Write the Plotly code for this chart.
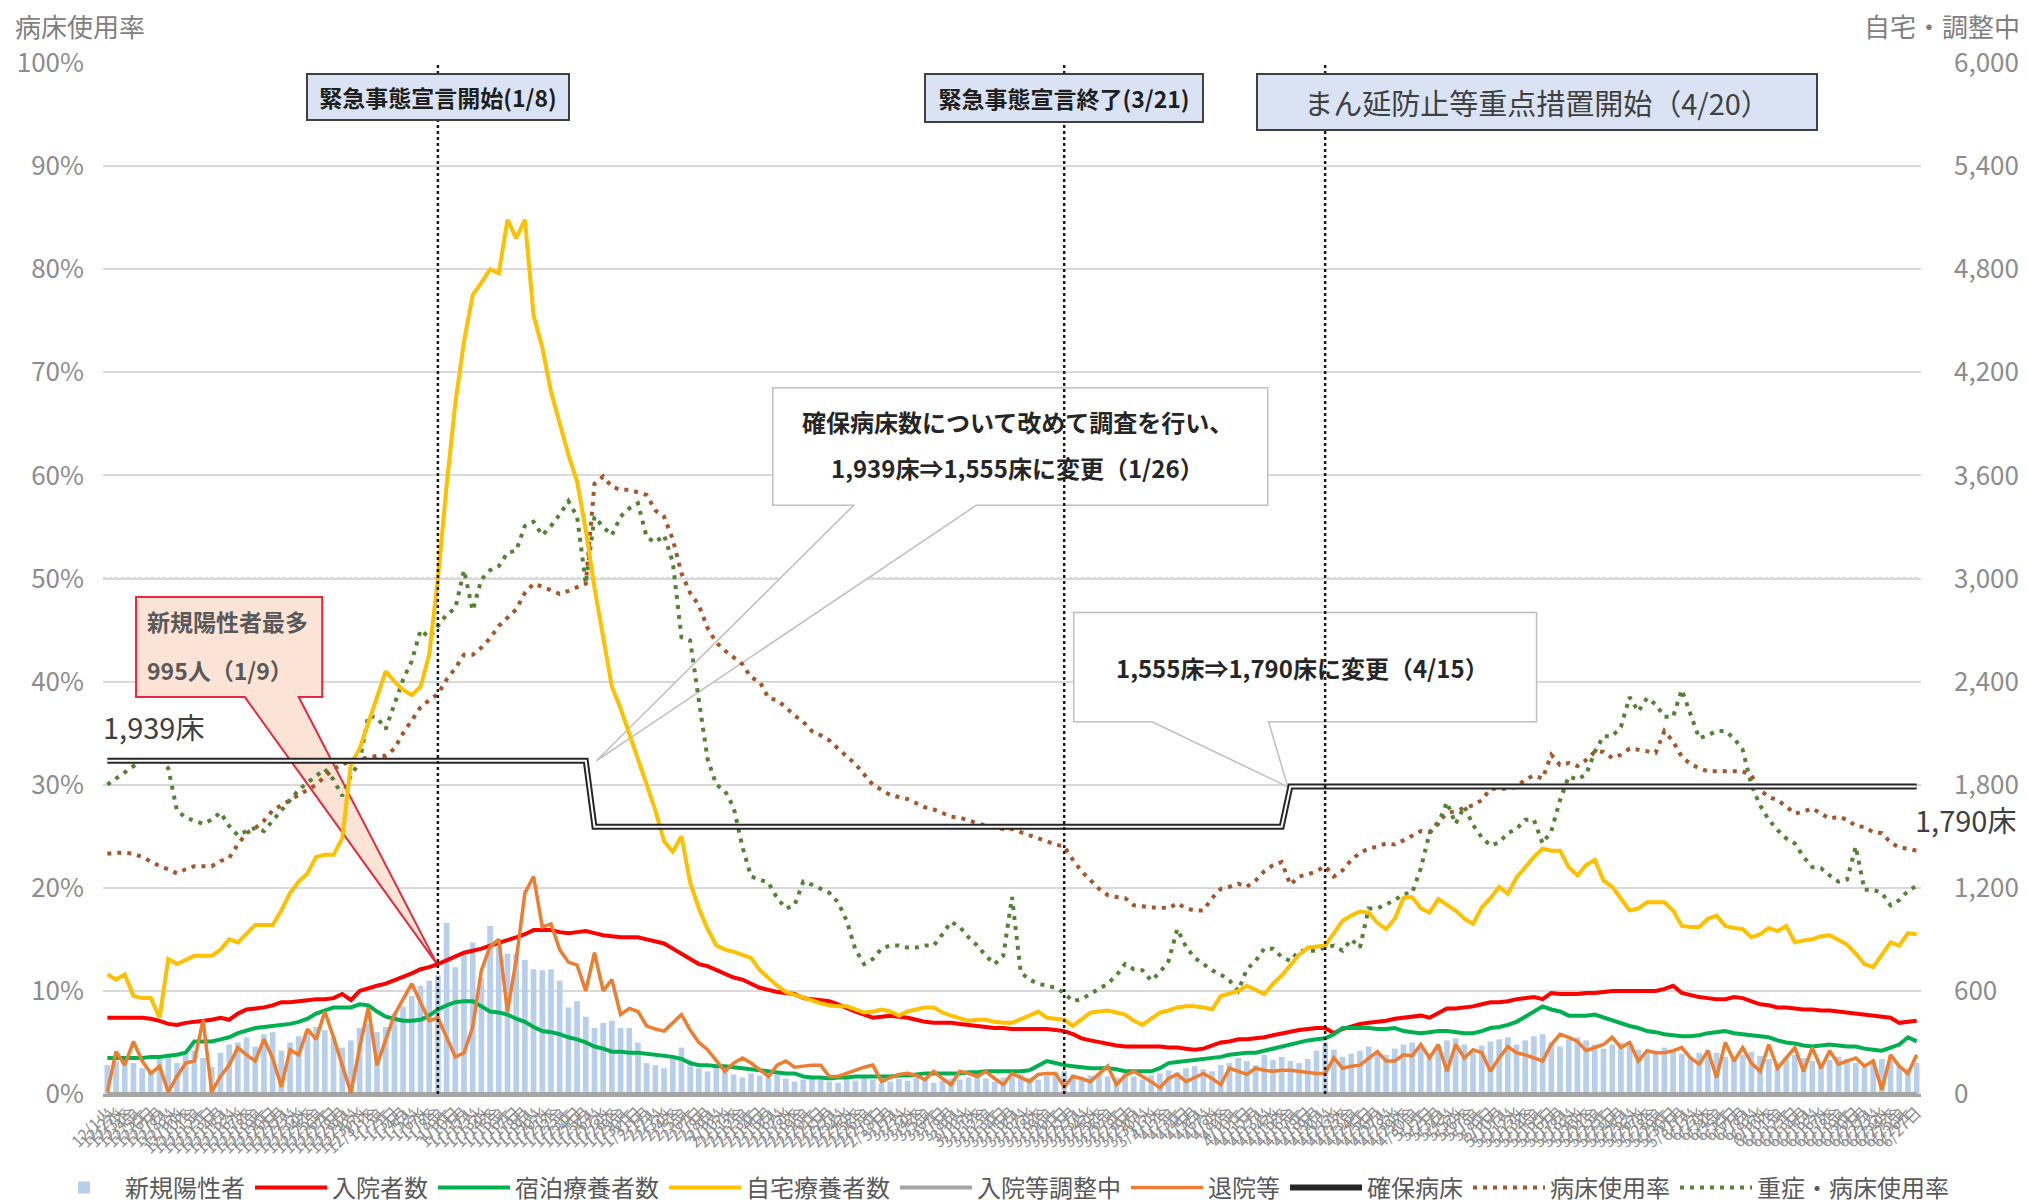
import pandas as pd
import plotly.graph_objects as go

WEEKDAYS = "月火水木金土日"
dates = pd.date_range("2020-12-01", "2021-06-27", freq="D")
date_labels = [f"{d.month}/{d.day}{WEEKDAYS[d.weekday()]}" for d in dates]

# counts (right axis)
new_cases = [
    168, 192, 210, 180, 150, 132, 204, 216, 180, 228,
    252, 210, 156, 240, 288, 300, 330, 276, 348, 360,
    252, 300, 336, 354, 390, 372, 330, 270, 312, 384,
    408, 360, 390, 468, 510, 570, 630, 660, 690, 995,
    738, 810, 882, 678, 978, 894, 816, 816, 780, 726,
    720, 726, 660, 504, 540, 450, 384, 414, 426, 384,
    384, 300, 180, 168, 150, 210, 270, 180, 150, 132,
    150, 138, 114, 96, 120, 108, 96, 114, 90, 72,
    84, 102, 90, 72, 66, 90, 78, 96, 84, 60,
    72, 90, 78, 96, 84, 66, 78, 90, 84, 96,
    108, 90, 72, 96, 102, 114, 96, 84, 108, 120,
    132, 114, 90, 108, 120, 102, 96, 114, 102, 84,
    108, 120, 138, 126, 150, 162, 144, 132, 168, 180,
    210, 192, 168, 228, 198, 216, 192, 180, 204, 252,
    300, 258, 216, 234, 252, 276, 240, 228, 264, 288,
    300, 270, 240, 276, 312, 324, 288, 252, 282, 306,
    318, 330, 288, 312, 336, 348, 300, 276, 318, 330,
    312, 288, 264, 288, 300, 282, 258, 234, 252, 270,
    252, 234, 216, 240, 258, 240, 216, 198, 228, 246,
    222, 204, 180, 210, 228, 210, 192, 174, 198, 216,
    204, 180, 156, 186, 204, 192, 168, 150, 180,
]

hospitalized = [
    444, 444, 444, 444, 444, 438, 426, 408, 402, 414,
    420, 426, 432, 444, 432, 468, 492, 498, 504, 516,
    534, 534, 540, 546, 552, 552, 558, 582, 546, 600,
    618, 630, 642, 660, 678, 702, 726, 738, 756, 780,
    798, 822, 834, 846, 864, 882, 894, 912, 930, 954,
    954, 954, 942, 936, 942, 948, 936, 924, 918, 912,
    912, 912, 900, 888, 876, 846, 816, 780, 756, 744,
    720, 696, 678, 666, 642, 618, 606, 594, 588, 582,
    558, 552, 546, 540, 522, 498, 480, 462, 444, 450,
    456, 450, 444, 432, 420, 414, 414, 414, 408, 402,
    396, 390, 384, 384, 378, 378, 378, 378, 378, 372,
    366, 348, 324, 312, 300, 294, 282, 276, 276, 276,
    276, 276, 270, 270, 264, 258, 264, 282, 300, 306,
    318, 318, 324, 330, 342, 354, 360, 372, 378, 384,
    384, 354, 378, 396, 408, 414, 420, 426, 438, 444,
    450, 456, 444, 468, 498, 498, 504, 510, 522, 534,
    534, 540, 552, 558, 564, 552, 588, 582, 582, 582,
    588, 588, 594, 600, 600, 600, 600, 600, 600, 612,
    630, 588, 576, 564, 558, 552, 552, 564, 558, 540,
    522, 516, 504, 504, 498, 492, 492, 486, 486, 480,
    474, 468, 462, 456, 450, 444, 414, 420, 426,
]

hotel = [
    210, 210, 210, 210, 210, 216, 216, 222, 228, 240,
    306, 306, 306, 318, 330, 354, 372, 384, 390, 396,
    402, 408, 420, 438, 468, 486, 504, 504, 504, 522,
    516, 480, 450, 438, 426, 426, 432, 456, 492, 516,
    534, 540, 540, 510, 480, 474, 462, 438, 420, 390,
    366, 360, 348, 330, 318, 300, 276, 264, 246, 246,
    240, 240, 234, 228, 222, 216, 204, 180, 168, 168,
    162, 162, 156, 150, 144, 138, 132, 126, 120, 120,
    102, 96, 96, 90, 96, 96, 102, 102, 102, 102,
    102, 108, 108, 114, 120, 120, 120, 120, 120, 126,
    126, 132, 132, 132, 132, 132, 138, 162, 192, 180,
    168, 162, 156, 150, 150, 150, 144, 132, 132, 132,
    132, 150, 180, 186, 192, 198, 204, 210, 216, 228,
    234, 240, 240, 252, 264, 276, 288, 300, 312, 318,
    324, 348, 384, 384, 384, 384, 378, 378, 384, 366,
    360, 354, 360, 366, 366, 360, 354, 354, 366, 384,
    390, 402, 420, 450, 480, 510, 492, 480, 456, 456,
    456, 462, 444, 426, 414, 396, 384, 366, 360, 348,
    342, 336, 336, 342, 354, 360, 366, 354, 348, 342,
    336, 330, 312, 300, 294, 282, 276, 282, 288, 282,
    276, 276, 264, 258, 252, 270, 288, 330, 306,
]

home = [
    696, 666, 696, 570, 558, 558, 444, 786, 756, 780,
    804, 804, 804, 840, 900, 882, 930, 984, 984, 984,
    1068, 1170, 1236, 1284, 1380, 1392, 1392, 1488, 1920, 2010,
    2160, 2310, 2460, 2400, 2352, 2322, 2370, 2556, 3000, 3540,
    4020, 4380, 4650, 4722, 4800, 4776, 5088, 4980, 5088, 4530,
    4344, 4086, 3900, 3720, 3564, 3282, 2946, 2658, 2370, 2244,
    2100, 1950, 1800, 1650, 1470, 1410, 1500, 1230, 1080, 960,
    864, 840, 828, 810, 792, 720, 672, 630, 594, 576,
    558, 540, 528, 516, 510, 510, 492, 474, 480, 492,
    480, 456, 480, 492, 504, 504, 474, 456, 438, 426,
    432, 432, 420, 414, 414, 432, 456, 480, 444, 438,
    432, 396, 432, 474, 480, 486, 474, 462, 426, 402,
    438, 474, 486, 504, 510, 510, 504, 492, 570, 588,
    600, 630, 606, 582, 642, 690, 750, 810, 852, 858,
    864, 936, 1008, 1038, 1062, 1056, 996, 960, 1020, 1140,
    1146, 1080, 1056, 1134, 1098, 1068, 1020, 990, 1086, 1140,
    1206, 1164, 1260, 1320, 1380, 1428, 1416, 1416, 1320, 1272,
    1332, 1362, 1242, 1206, 1140, 1068, 1080, 1116, 1116, 1116,
    1068, 978, 972, 972, 1020, 1038, 978, 966, 960, 912,
    930, 966, 948, 978, 882, 894, 900, 918, 924, 900,
    870, 816, 756, 738, 810, 882, 864, 936, 930,
]

adjusting = [0] * len(dates)

discharged = [
    12, 246, 168, 306, 192, 120, 162, 12, 102, 180,
    192, 432, 12, 102, 168, 270, 228, 192, 318, 210,
    42, 258, 228, 378, 318, 480, 330, 168, 6, 270,
    504, 168, 318, 462, 552, 642, 534, 426, 444, 330,
    216, 240, 390, 720, 858, 900, 480, 780, 1170, 1266,
    972, 990, 840, 768, 750, 600, 822, 600, 666, 462,
    498, 480, 396, 378, 366, 414, 462, 372, 300, 258,
    192, 132, 180, 210, 180, 144, 102, 168, 192, 156,
    162, 168, 168, 102, 102, 120, 138, 156, 168, 72,
    96, 114, 120, 108, 84, 132, 90, 54, 132, 120,
    102, 132, 90, 54, 120, 96, 72, 114, 120, 120,
    42, 102, 90, 72, 120, 162, 54, 108, 132, 102,
    72, 36, 90, 114, 72, 96, 120, 90, 54, 150,
    132, 114, 150, 138, 132, 138, 138, 132, 126, 120,
    120, 210, 150, 162, 168, 210, 246, 192, 192, 228,
    222, 288, 210, 288, 132, 288, 210, 258, 240, 132,
    210, 276, 240, 228, 210, 192, 288, 348, 330, 306,
    252, 270, 288, 330, 270, 300, 192, 252, 240, 240,
    252, 270, 210, 174, 252, 96, 300, 192, 270, 180,
    132, 288, 150, 210, 270, 132, 270, 150, 252, 174,
    192, 210, 162, 192, 24, 228, 162, 120, 228,
]

# secured beds: 1,939 -> 1,555 (1/26) -> 1,790 (4/15)
secured_beds = [1939] * 56 + [1555] * 80 + [1790] * 73

# percentages (left axis)
bed_rate = [
    23.3, 23.4, 23.4, 23.3, 23.0, 22.5, 22.1, 21.8, 21.4, 21.8,
    22.1, 22.1, 22.1, 22.6, 22.9, 24.2, 25.3, 25.8, 26.5, 27.5,
    28.0, 28.5, 29.0, 29.5, 30.0, 30.8, 31.5, 32.0, 32.3, 32.5,
    32.6, 32.8, 32.8, 33.5, 35.0, 36.2, 37.5, 38.2, 38.8, 40.2,
    41.3, 42.6, 42.6, 43.3, 44.2, 45.4, 46.2, 47.0, 48.6, 49.5,
    49.2, 48.8, 48.5, 48.8, 49.2, 49.5, 59.2, 59.9, 58.9, 58.6,
    58.6, 58.4, 58.1, 56.6, 56.0, 53.8, 50.5, 48.6, 47.4, 45.2,
    43.8, 43.0, 42.3, 41.7, 40.4, 40.0, 38.4, 38.2, 37.5, 36.7,
    36.1, 35.2, 34.8, 34.3, 33.5, 32.7, 32.0, 31.0, 30.0, 29.5,
    29.0, 28.8, 28.6, 28.2, 27.8, 27.6, 27.2, 26.9, 26.8, 26.5,
    26.2, 26.0, 25.9, 25.7, 25.7, 25.4, 25.0, 24.7, 24.5, 24.2,
    24.0, 22.7, 21.6, 20.7, 19.9, 19.3, 19.1, 19.0, 18.3, 18.2,
    18.1, 18.1, 18.0, 18.5, 18.0, 17.8, 17.8, 19.0, 19.9, 20.1,
    20.4, 20.1, 20.7, 21.6, 22.2, 22.5, 20.3, 21.1, 21.3, 21.6,
    22.1, 21.1, 21.7, 22.7, 23.4, 23.8, 24.0, 24.3, 24.2, 24.6,
    25.0, 25.5, 25.4, 26.4, 27.2, 27.5, 27.8, 28.0, 28.5, 29.6,
    29.6, 29.6, 29.8, 30.5, 30.9, 30.6, 32.9, 31.9, 32.1, 31.8,
    32.4, 33.2, 33.2, 32.6, 32.9, 33.5, 33.4, 33.2, 33.1, 35.2,
    34.2, 32.7, 32.0, 31.6, 31.3, 31.3, 31.3, 31.3, 31.3, 30.9,
    29.5, 28.8, 28.5, 27.9, 27.2, 27.4, 27.7, 27.2, 26.7, 26.9,
    26.6, 26.0, 25.9, 25.4, 25.3, 24.4, 23.9, 23.8, 23.6,
]

severe_rate = [
    30.0, 30.6, 31.1, 31.8, 32.4, 32.4, 32.4, 31.6, 27.5, 26.8,
    26.5, 26.2, 26.6, 27.3, 26.0, 25.1, 25.5, 25.8, 25.5, 26.5,
    27.5, 28.5, 29.5, 30.2, 30.8, 31.5, 30.5, 28.9, 30.9, 32.2,
    36.7, 36.5, 35.4, 37.8, 40.2, 42.0, 45.0, 44.3, 45.4, 46.5,
    47.1, 50.8, 46.9, 49.9, 50.8, 51.2, 52.5, 52.7, 55.1, 55.5,
    54.2, 55.1, 56.2, 57.5, 56.0, 49.5, 56.0, 55.0, 54.2, 56.0,
    56.8, 57.3, 54.0, 53.5, 54.2, 51.6, 44.3, 44.0, 38.2, 32.5,
    30.0, 29.4, 27.8, 24.0, 21.1, 20.8, 20.5, 19.0, 18.0, 18.3,
    20.6, 20.3, 19.9, 19.5, 18.6, 16.8, 14.0, 12.6, 13.1, 14.1,
    14.4, 14.4, 14.2, 14.2, 14.4, 14.4, 15.5, 16.7, 16.2, 15.2,
    14.4, 13.4, 12.6, 13.4, 19.1, 11.8, 11.1, 10.7, 10.5, 10.3,
    9.8, 9.0, 9.2, 9.7, 10.3, 10.7, 11.5, 12.6, 12.1, 12.0,
    11.0, 11.8, 12.9, 16.0, 14.3, 13.2, 12.6, 12.0, 11.6, 11.0,
    10.0, 12.1, 12.9, 14.1, 14.1, 13.3, 12.9, 13.9, 13.9, 13.9,
    14.2, 14.4, 13.9, 15.0, 14.2, 18.0, 18.0, 18.4, 18.8, 19.4,
    19.5, 21.9, 25.3, 26.2, 28.3, 26.2, 27.9, 26.1, 24.9, 24.1,
    24.4, 25.3, 25.7, 26.6, 26.6, 24.3, 25.5, 28.5, 30.8, 30.5,
    31.0, 33.2, 34.7, 34.7, 35.6, 38.5, 37.1, 38.4, 37.8, 36.6,
    36.6, 39.2, 36.8, 34.5, 34.8, 35.2, 35.2, 34.5, 33.4, 30.0,
    28.0, 26.6, 25.6, 24.8, 24.3, 23.0, 22.0, 21.9, 21.2, 20.6,
    20.8, 24.0, 19.8, 19.8, 19.5, 18.3, 18.8, 19.7, 20.2,
]

FONT = "Noto Sans CJK JP"
x = list(range(len(dates)))


def day(s):
    return dates.get_loc(pd.Timestamp(s))


fig = go.Figure()

fig.add_trace(go.Bar(x=x, y=new_cases, name="新規陽性者", yaxis="y2",
                     marker=dict(color="#b7cfec", line=dict(width=0))))
fig.add_trace(go.Scatter(x=x, y=hospitalized, name="入院者数", mode="lines", yaxis="y2",
                         line=dict(color="#ff0000", width=4)))
fig.add_trace(go.Scatter(x=x, y=hotel, name="宿泊療養者数", mode="lines", yaxis="y2",
                         line=dict(color="#00b050", width=4)))
fig.add_trace(go.Scatter(x=x, y=home, name="自宅療養者数", mode="lines", yaxis="y2",
                         line=dict(color="#ffc000", width=4)))
fig.add_trace(go.Scatter(x=x, y=adjusting, name="入院等調整中", mode="lines", yaxis="y2",
                         line=dict(color="#a5a5a5", width=4)))
fig.add_trace(go.Scatter(x=x, y=discharged, name="退院等", mode="lines", yaxis="y2",
                         line=dict(color="#ed7d31", width=3.5)))
fig.add_trace(go.Scatter(x=x, y=secured_beds, name="確保病床", mode="lines", yaxis="y2",
                         line=dict(color="#262626", width=6)))
fig.add_trace(go.Scatter(x=x, y=secured_beds, mode="lines", yaxis="y2", showlegend=False,
                         line=dict(color="white", width=2)))
fig.add_trace(go.Scatter(x=x, y=bed_rate, name="病床使用率", mode="lines",
                         line=dict(color="#a5552a", width=4, dash="4px,6px")))
fig.add_trace(go.Scatter(x=x, y=severe_rate, name="重症・病床使用率", mode="lines",
                         line=dict(color="#548235", width=4, dash="4px,6px")))

shapes = []
for d in ["2021-01-08", "2021-03-21", "2021-04-20"]:
    shapes.append(dict(type="line", xref="x", yref="y", x0=day(d), x1=day(d), y0=0, y1=100,
                       line=dict(color="#1a1a1a", width=2.5, dash="dot"), layer="above"))

shapes.append(dict(type="line", xref="paper", yref="y", x0=0, x1=1, y0=50, y1=50,
                   line=dict(color="#ee8a96", width=2, dash="dot"), layer="between"))

# callouts
shapes.append(dict(type="path", xref="x", yref="y", layer="between",
                   path="M 3.3,48.2 L 24.7,48.2 L 24.7,38.5 L 22.0,38.5 L 37.9,12.6 "
                        "L 15.8,38.5 L 3.3,38.5 Z",
                   fillcolor="#fbe3d6", line=dict(color="#e8283c", width=2)))
shapes.append(dict(type="path", xref="x", yref="y", layer="between",
                   path="M 76.5,68.5 L 133.4,68.5 L 133.4,57.1 L 99.9,57.1 L 56.2,32.3 "
                        "L 85.8,57.1 L 76.5,57.1 Z",
                   fillcolor="white", line=dict(color="#bfbfbf", width=1.5)))
shapes.append(dict(type="path", xref="x", yref="y", layer="between",
                   path="M 111.1,46.7 L 164.3,46.7 L 164.3,36.1 L 133.5,36.1 L 135.7,29.8 "
                        "L 120.1,36.1 L 111.1,36.1 Z",
                   fillcolor="white", line=dict(color="#bfbfbf", width=1.5)))

box = dict(bgcolor="#dae3f3", bordercolor="#404040", borderwidth=2, showarrow=False,
           xref="x", yref="y")
annotations = [
    dict(x=day("2021-01-08"), y=96.7, text="<b>緊急事態宣言開始(1/8)</b>", width=258, height=42,
         font=dict(family=FONT, size=23, color="#1f1f1f"), **box),
    dict(x=day("2021-03-21"), y=96.6, text="<b>緊急事態宣言終了(3/21)</b>", width=274, height=44,
         font=dict(family=FONT, size=23, color="#1f1f1f"), **box),
    dict(x=164.4, y=96.2, text="まん延防止等重点措置開始（4/20）", width=556, height=52,
         font=dict(family=FONT, size=29, color="#404040"), **box),
]

txt = dict(showarrow=False, xref="x", yref="y", yanchor="middle")
annotations += [
    dict(x=4.3, y=45.9, xanchor="left", text="<b>新規陽性者最多</b>",
         font=dict(family=FONT, size=23, color="#595959"), **txt),
    dict(x=4.3, y=41.1, xanchor="left", text="<b>995人（1/9）</b>",
         font=dict(family=FONT, size=23, color="#595959"), **txt),
    dict(x=104.6, y=65.2, xanchor="center", text="<b>確保病床数について改めて調査を行い、</b>",
         font=dict(family=FONT, size=24, color="#262626"), **txt),
    dict(x=104.6, y=60.8, xanchor="center", text="<b>1,939床⇒1,555床に変更（1/26）</b>",
         font=dict(family=FONT, size=24, color="#262626"), **txt),
    dict(x=137.4, y=41.4, xanchor="center", text="<b>1,555床⇒1,790床に変更（4/15）</b>",
         font=dict(family=FONT, size=24, color="#262626"), **txt),
]

ptxt = dict(showarrow=False, xref="paper", yref="paper", yanchor="middle")
annotations += [
    dict(x=-0.001, y=0.357, xanchor="left", text="1,939床",
         font=dict(family=FONT, size=29, color="#404040"), **ptxt),
    dict(x=0.9956, y=0.2663, xanchor="left", text="1,790床",
         font=dict(family=FONT, size=29, color="#404040"), **ptxt),
    dict(x=-0.0495, y=1.036, xanchor="left", text="病床使用率",
         font=dict(family=FONT, size=26, color="#7f7f7f"), **ptxt),
    dict(x=1.0556, y=1.036, xanchor="right", text="自宅・調整中",
         font=dict(family=FONT, size=26, color="#7f7f7f"), **ptxt),
]

fig.update_layout(
    width=2021,
    height=1196,
    margin=dict(l=95, r=108, t=55, b=110, autoexpand=False),
    paper_bgcolor="white",
    plot_bgcolor="white",
    font=dict(family=FONT, color="#595959"),
    bargap=0.35,
    showlegend=True,
    legend=dict(orientation="h", x=-0.033, y=-0.091, xanchor="left", yanchor="middle",
                font=dict(family=FONT, size=24, color="#595959"), itemwidth=72,
                bgcolor="rgba(0,0,0,0)"),
    xaxis=dict(range=[-0.5, len(dates) - 0.5], tickmode="array", tickvals=x,
               ticktext=date_labels, tickangle=-45, automargin=False,
               tickfont=dict(family=FONT, size=16, color="#8c8c8c"),
               showgrid=False, zeroline=False, showline=True,
               linecolor="#a6a6a6", linewidth=3, ticks=""),
    yaxis=dict(range=[0, 100], dtick=10, ticksuffix="%", automargin=False,
               tickfont=dict(family=FONT, size=26, color="#8c8c8c"),
               showgrid=True, gridcolor="#d9d9d9", gridwidth=1.5, zeroline=False,
               ticklabelstandoff=18),
    yaxis2=dict(range=[0, 6000], dtick=600, tickformat=",", overlaying="y", side="right",
                automargin=False, tickfont=dict(family=FONT, size=26, color="#8c8c8c"),
                showgrid=False, zeroline=False, ticklabelstandoff=32),
    shapes=shapes,
    annotations=annotations,
)

fig.write_html("out.html")
